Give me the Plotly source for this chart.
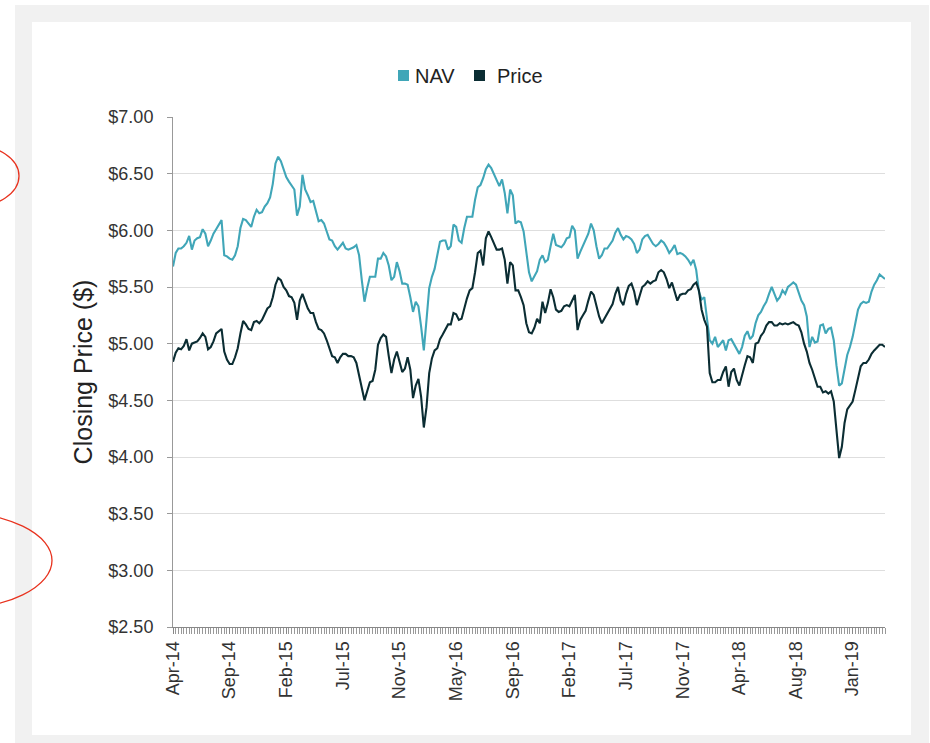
import plotly.graph_objects as go

#%%
# weekly closing values, Apr-14 .. Apr-19
nav = [
    5.68, 5.80, 5.84, 5.84, 5.86, 5.89, 5.95, 5.83, 5.91, 5.93,
    5.94, 6.01, 5.97, 5.86, 5.91, 5.97, 6.01, 6.05, 6.09, 5.78,
    5.77, 5.75, 5.74, 5.78, 5.86, 6.02, 6.10, 6.09, 6.06, 6.03,
    6.12, 6.18, 6.15, 6.16, 6.21, 6.24, 6.29, 6.41, 6.59, 6.65,
    6.61, 6.53, 6.47, 6.43, 6.39, 6.36, 6.13, 6.21, 6.49, 6.36,
    6.31, 6.25, 6.26, 6.18, 6.08, 6.09, 6.06, 5.99, 5.92, 5.91,
    5.86, 5.83, 5.86, 5.89, 5.84, 5.83, 5.84, 5.85, 5.87, 5.78,
    5.56, 5.37, 5.49, 5.59, 5.59, 5.59, 5.75, 5.75, 5.80, 5.77,
    5.69, 5.56, 5.59, 5.72, 5.64, 5.53, 5.53, 5.52, 5.41, 5.28,
    5.37, 5.33, 5.15, 4.94, 5.21, 5.49, 5.59, 5.66, 5.78, 5.90,
    5.91, 5.91, 5.83, 5.86, 6.05, 6.03, 5.91, 5.89, 6.02, 6.12,
    6.12, 6.12, 6.27, 6.38, 6.40, 6.46, 6.54, 6.58, 6.55, 6.50,
    6.45, 6.39, 6.45, 6.33, 6.15, 6.36, 6.31, 6.06, 6.08, 6.07,
    5.99, 5.83, 5.63, 5.55, 5.59, 5.64, 5.74, 5.78, 5.72, 5.74,
    5.86, 5.97, 5.87, 5.86, 5.85, 5.88, 5.93, 5.94, 6.04, 6.00,
    5.75, 5.81, 5.86, 5.91, 5.97, 6.06, 6.00, 5.86, 5.75, 5.78,
    5.84, 5.84, 5.88, 5.91, 5.98, 6.02, 5.96, 5.92, 5.95, 5.94,
    5.92, 5.88, 5.80, 5.83, 5.92, 5.95, 5.96, 5.92, 5.88, 5.86,
    5.88, 5.91, 5.89, 5.85, 5.80, 5.83, 5.87, 5.79, 5.80, 5.79,
    5.77, 5.74, 5.70, 5.74, 5.65, 5.46, 5.39, 5.41, 5.24, 5.03,
    5.00, 5.06, 4.97, 5.00, 5.03, 4.94, 5.03, 5.04, 5.00, 4.95,
    4.91, 4.97, 5.07, 5.11, 5.04, 5.07, 5.18, 5.25, 5.28, 5.33,
    5.37, 5.44, 5.50, 5.44, 5.38, 5.41, 5.47, 5.44, 5.50, 5.52,
    5.54, 5.52, 5.44, 5.38, 5.34, 5.24, 4.97, 5.06, 5.01, 5.02,
    5.16, 5.17, 5.09, 5.13, 5.14, 5.03, 4.81, 4.63, 4.65, 4.77,
    4.90, 4.97, 5.06, 5.18, 5.30, 5.35, 5.37, 5.36, 5.37, 5.46,
    5.52, 5.56, 5.61, 5.59, 5.57,
]

price = [
    4.84, 4.92, 4.96, 4.95, 4.98, 5.04, 4.94, 5.00, 5.01, 5.02,
    5.05, 5.09, 5.06, 4.95, 4.97, 5.02, 5.09, 5.11, 5.13, 4.93,
    4.86, 4.82, 4.82, 4.88, 4.96, 5.09, 5.20, 5.17, 5.13, 5.12,
    5.19, 5.20, 5.18, 5.21, 5.26, 5.31, 5.33, 5.41, 5.52, 5.58,
    5.56, 5.50, 5.47, 5.42, 5.41, 5.36, 5.21, 5.38, 5.44, 5.37,
    5.31, 5.27, 5.27, 5.19, 5.13, 5.12, 5.09, 5.03, 4.95, 4.89,
    4.88, 4.83, 4.88, 4.91, 4.91, 4.89, 4.89, 4.88, 4.83, 4.72,
    4.59, 4.50, 4.58, 4.66, 4.67, 4.77, 4.99, 5.05, 5.08, 5.06,
    4.89, 4.74, 4.86, 4.93, 4.84, 4.75, 4.78, 4.88, 4.77, 4.52,
    4.63, 4.69, 4.53, 4.26, 4.44, 4.74, 4.87, 4.94, 4.96, 5.04,
    5.08, 5.12, 5.17, 5.17, 5.27, 5.26, 5.21, 5.22, 5.32, 5.40,
    5.47, 5.49, 5.63, 5.80, 5.82, 5.69, 5.93, 5.99, 5.94, 5.89,
    5.83, 5.83, 5.84, 5.74, 5.53, 5.72, 5.69, 5.47, 5.47, 5.41,
    5.34, 5.18, 5.10, 5.09, 5.14, 5.22, 5.18, 5.37, 5.27, 5.36,
    5.48, 5.41, 5.30, 5.28, 5.29, 5.33, 5.34, 5.33, 5.38, 5.43,
    5.12, 5.21, 5.25, 5.29, 5.38, 5.46, 5.43, 5.33, 5.24, 5.18,
    5.22, 5.27, 5.30, 5.35, 5.44, 5.50, 5.38, 5.34, 5.44, 5.51,
    5.53, 5.46, 5.34, 5.41, 5.50, 5.52, 5.55, 5.53, 5.55, 5.56,
    5.63, 5.65, 5.63, 5.57, 5.49, 5.54, 5.47, 5.38, 5.43, 5.44,
    5.44, 5.47, 5.48, 5.52, 5.54, 5.47, 5.30, 5.21, 5.15, 4.74,
    4.66, 4.66, 4.68, 4.68, 4.75, 4.80, 4.62, 4.75, 4.78, 4.68,
    4.63, 4.73, 4.81, 4.89, 4.88, 4.83, 5.00, 5.01, 5.07, 5.10,
    5.16, 5.19, 5.19, 5.16, 5.16, 5.18, 5.17, 5.18, 5.17, 5.18,
    5.19, 5.17, 5.16, 5.10, 5.00, 4.93, 4.83, 4.77, 4.69, 4.62,
    4.62, 4.57, 4.58, 4.56, 4.58, 4.49, 4.24, 3.99, 4.09, 4.30,
    4.42, 4.46, 4.49, 4.59, 4.69, 4.80, 4.83, 4.83, 4.86, 4.91,
    4.94, 4.97, 4.99, 4.99, 4.97,
]

tick_labels = ['Apr-14', 'Sep-14', 'Feb-15', 'Jul-15', 'Nov-15', 'May-16',
               'Sep-16', 'Feb-17', 'Jul-17', 'Nov-17', 'Apr-18', 'Aug-18',
               'Jan-19']

series_names = ['NAV', 'Price']

#%%

W, H = 930, 743
L, R, T, B = 173, 45, 117, 116
PW, PH = W - L - R, H - T - B

# pixel -> paper coords
def px_x(p):
    return (p - L) / PW

def px_y(p):
    return (H - B - p) / PH

FONT = 'Liberation Sans, Arial, sans-serif'
NAV_C = '#40a6b8'
PRICE_C = '#0b2d33'

weeks = list(range(len(nav)))
tick_pos = weeks[::21][:len(tick_labels)]

fig = go.Figure()

fig.add_trace(go.Scatter(x=weeks, y=nav, mode='lines', name=series_names[0],
                         line=dict(color=NAV_C, width=2.1)))
fig.add_trace(go.Scatter(x=weeks, y=price, mode='lines', name=series_names[1],
                         line=dict(color=PRICE_C, width=2.1)))

shapes = [
    # grey frame + white card
    dict(type='rect', xref='paper', yref='paper', layer='below',
         x0=px_x(15), x1=px_x(929), y0=px_y(5), y1=px_y(745),
         fillcolor='#f1f1f1', line=dict(width=0)),
    dict(type='rect', xref='paper', yref='paper', layer='below',
         x0=px_x(32), x1=px_x(911), y0=px_y(22), y1=px_y(735),
         fillcolor='white', line=dict(width=0)),
    # red hand-drawn circles on the left
    dict(type='circle', xref='paper', yref='paper',
         x0=px_x(-75), x1=px_x(19), y0=px_y(145), y1=px_y(207),
         line=dict(color='#e8321e', width=1.3)),
    dict(type='circle', xref='paper', yref='paper',
         x0=px_x(-148), x1=px_x(52), y0=px_y(512), y1=px_y(609),
         line=dict(color='#e8321e', width=1.3)),
]

# legend drawn by hand: square + label
annotations = []
for name, c, sq_x, txt_x in [(series_names[0], NAV_C, 398, 413),
                             (series_names[1], PRICE_C, 474, 495)]:
    shapes.append(dict(type='rect', xref='paper', yref='paper',
                       x0=px_x(sq_x), x1=px_x(sq_x + 11),
                       y0=px_y(70), y1=px_y(81),
                       fillcolor=c, line=dict(width=0)))
    annotations.append(dict(text=name, xref='paper', yref='paper',
                            x=px_x(txt_x), y=px_y(75.5), xanchor='left',
                            yanchor='middle', showarrow=False,
                            font=dict(size=20, color='#222222')))

fig.update_layout(
    width=W, height=H,
    margin=dict(l=L, r=R, t=T, b=B),
    paper_bgcolor='white',
    plot_bgcolor='rgba(0,0,0,0)',
    font=dict(family=FONT, color='#333333', size=14),
    shapes=shapes,
    annotations=annotations,
    showlegend=False,
)

fig.update_xaxes(
    range=[0, len(nav) - 1],
    tickmode='array', tickvals=tick_pos, ticktext=tick_labels,
    tickangle=-90, tickfont=dict(size=18, color='#333333'),
    showgrid=False, zeroline=False,
    showline=True, linecolor='#888888', linewidth=1,
    ticks='outside', ticklen=6, tickcolor='#888888',
    ticklabelstandoff=0,
    minor=dict(tickmode='linear', tick0=0, dtick=1, ticks='outside',
               ticklen=6, tickcolor='#999999', showgrid=False),
)

fig.update_yaxes(
    range=[2.5, 7.0], dtick=0.5, tick0=2.5,
    tickformat='$.2f', tickfont=dict(size=18, color='#333333'),
    showgrid=True, gridcolor='#dedede', gridwidth=1, zeroline=False,
    showline=True, linecolor='#999999', linewidth=1,
    ticks='outside', ticklen=5, tickcolor='#999999',
    ticklabelstandoff=10,
    title=dict(text='Closing Price ($)', font=dict(size=25, color='#222222'),
               standoff=8),
)

# the page body has an 8px default margin; drop it so the chart sits at 0,0
fig.write_html('out.html', config={'displayModeBar': False},
               post_script="document.body.style.margin='0';")
